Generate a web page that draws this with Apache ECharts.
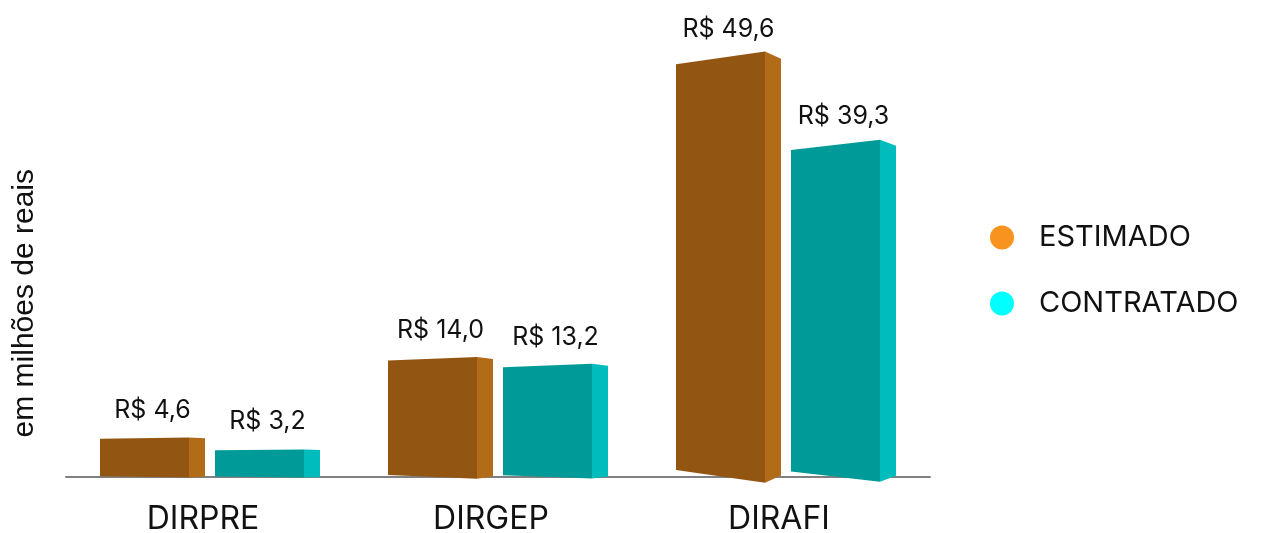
<!DOCTYPE html>
<html>
<head>
<meta charset="utf-8">
<script src="https://cdn.jsdelivr.net/npm/echarts@6/dist/echarts.min.js"></script>
<style>
  html, body { margin: 0; padding: 0; background: #fff; }
  #main { width: 1276px; height: 533px; }
</style>
</head>
<body>
<div id="main"></div>
<script>
var categories = ['DIRPRE', 'DIRGEP', 'DIRAFI'];
var estimado = [4.6, 14.0, 49.6];
var contratado = [3.2, 13.2, 39.3];
var seriesNames = ['ESTIMADO', 'CONTRATADO'];

var chart = echarts.init(document.getElementById('main'));

// cores: frente, lateral, legenda
var colors = [
  ['#935612', '#B26C18', '#F7931E'],
  ['#009B99', '#00BCBC', '#00FFFF']
];

function fmt(v){
  return 'R$ ' + v.toFixed(1).replace('.', ',');
}

// barra "3D": face frontal em leve perspectiva + face lateral
function renderBar(params, api){
  var ci = api.value(0), v = api.value(1);
  var base = api.coord([ci, 0]);
  var top = api.coord([ci, v]);
  var s = api.size([1, 0])[0] / 288;
  var x0 = base[0] + (params.seriesIndex == 0 ? -110 : 5) * s;
  var x1 = x0 + 89 * s, x2 = x1 + 16 * s;
  var h = base[1] - top[1];
  var mid = base[1] - h / 2;
  var lh = 0.967 * h / 2, rh = 1.028 * h / 2, sh = 0.993 * h / 2;
  var c = colors[params.seriesIndex];
  return {
    type: 'group',
    children: [{
      type: 'polygon',
      shape: { points: [[x0, mid - lh], [x1, mid - rh], [x1, mid + rh], [x0, mid + lh]] },
      style: { fill: c[0] }
    }, {
      type: 'polygon',
      shape: { points: [[x1, mid - rh], [x2, mid - sh], [x2, mid + sh], [x1, mid + rh]] },
      style: { fill: c[1] }
    }, {
      type: 'text',
      style: {
        text: fmt(v),
        x: (x0 + x2) / 2,
        y: top[1] - 28,
        align: 'center',
        verticalAlign: 'middle',
        fill: '#111',
        font: '25px Inter'
      }
    }]
  };
}

var option = {
  animation: false,
  grid: { left: 66, right: 346, top: 54, bottom: 56, outerBoundsMode: 'none', containLabel: false },
  legend: {
    orient: 'vertical',
    left: 985,
    top: 218,
    itemWidth: 24,
    itemHeight: 24,
    itemGap: 37,
    icon: 'circle',
    textStyle: { fontFamily: 'Inter', fontSize: 29, lineHeight: 24, color: '#111', padding: [0, 0, 0, 20] },
    data: [
      { name: seriesNames[0], itemStyle: { color: colors[0][2] } },
      { name: seriesNames[1], itemStyle: { color: colors[1][2] } }
    ]
  },
  graphic: [{
    type: 'text',
    left: 10,
    top: 169,
    rotation: Math.PI / 2,
    style: {
      text: 'em milhões de reais',
      font: '30px "Liberation Sans"',
      fill: '#111'
    }
  }],
  xAxis: {
    type: 'category',
    data: categories,
    axisLine: { lineStyle: { color: '#808080', width: 2 } },
    axisTick: { show: false },
    axisLabel: {
      color: '#111',
      fontFamily: 'Inter',
      fontSize: 32,
      margin: 26,
      padding: [0, 14, 0, 0]
    }
  },
  yAxis: {
    type: 'value',
    min: 0,
    max: 50,
    show: false
  },
  series: [{
    name: seriesNames[0],
    type: 'custom',
    renderItem: renderBar,
    itemStyle: { color: colors[0][2] },
    data: estimado.map(function(v, i){ return [i, v]; })
  }, {
    name: seriesNames[1],
    type: 'custom',
    renderItem: renderBar,
    itemStyle: { color: colors[1][2] },
    data: contratado.map(function(v, i){ return [i, v]; })
  }]
};

chart.setOption(option);
</script>
</body>
</html>
